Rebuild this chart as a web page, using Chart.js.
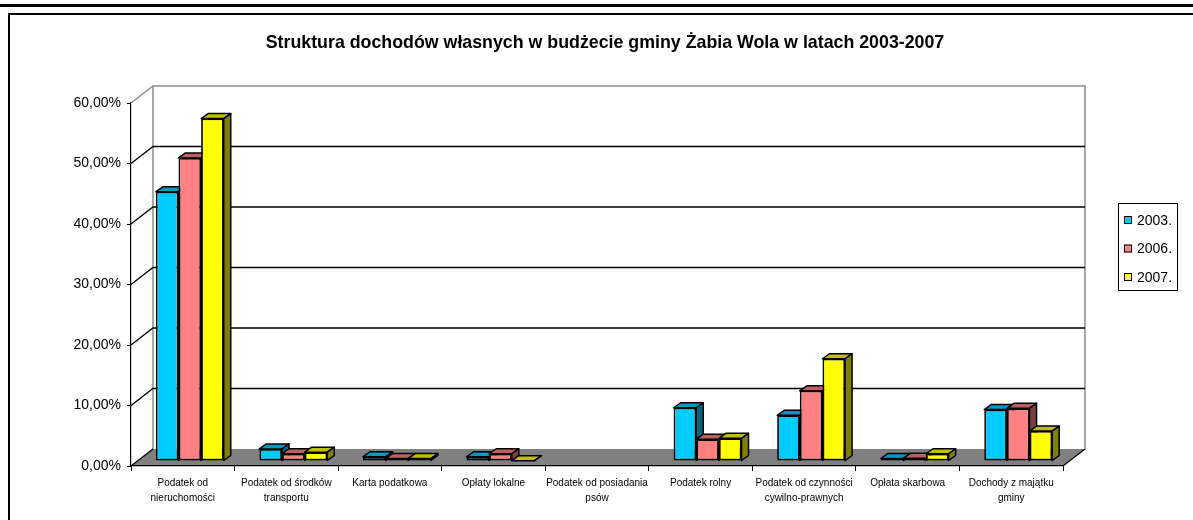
<!DOCTYPE html>
<html>
<head>
<meta charset="utf-8">
<script src="https://cdn.jsdelivr.net/npm/chart.js@4.4.0/dist/chart.umd.min.js"></script>
<style>
  html, body { margin: 0; padding: 0; background: #fff; }
</style>
</head>
<body>
<canvas id="chart" width="1193" height="520"></canvas>
<script>
// Data (percent of own revenue)
const categories = [
  ["Podatek od", "nieruchomości"],
  ["Podatek od środków", "transportu"],
  "Karta podatkowa",
  "Opłaty lokalne",
  ["Podatek od posiadania", "psów"],
  "Podatek rolny",
  ["Podatek od czynności", "cywilno-prawnych"],
  "Opłata skarbowa",
  ["Dochody z majątku", "gminy"]
];
const years = ["2003.", "2006.", "2007."];
const values2003 = [44.5, 2.0, 0.7, 0.7, null, 8.8, 7.55, 0.4, 8.5];
const values2006 = [50.1, 1.2, 0.4, 1.2, null, 3.6, 11.6, 0.45, 8.7];
const values2007 = [56.6, 1.45, 0.4, 0.05, null, 3.75, 16.9, 1.2, 4.95];
const yTicks = [0, 10, 20, 30, 40, 50, 60];

const TITLE = "Struktura dochodów własnych w budżecie gminy Żabia Wola w latach 2003-2007";
const FONT = '"Liberation Sans", Arial, sans-serif';

// oblique depth of the walls, of the bar row and of each bar
const WALL_X = 22, WALL_Y = 17;
const ROW_X = 7, ROW_Y = 5;
const BAR_X = 7, BAR_Y = 5;

function drawFaces(ctx, ds, meta) {
  ctx.save();
  ctx.strokeStyle = '#000';
  ctx.lineWidth = 1.5;
  ctx.lineJoin = 'round';
  meta.data.forEach((bar, i) => {
    if (ds.data[i] == null) return;
    const { x, y, base, width } = bar.getProps(['x', 'y', 'base', 'width'], true);
    const l = x - width / 2, r = x + width / 2;
    // top
    ctx.beginPath();
    ctx.moveTo(l, y);
    ctx.lineTo(l + BAR_X, y - BAR_Y);
    ctx.lineTo(r + BAR_X, y - BAR_Y);
    ctx.lineTo(r, y);
    ctx.closePath();
    ctx.fillStyle = ds.topColor;
    ctx.fill();
    ctx.stroke();
    // right side
    ctx.beginPath();
    ctx.moveTo(r, y);
    ctx.lineTo(r + BAR_X, y - BAR_Y);
    ctx.lineTo(r + BAR_X, base - BAR_Y);
    ctx.lineTo(r, base);
    ctx.closePath();
    ctx.fillStyle = ds.sideColor;
    ctx.fill();
    ctx.stroke();
  });
  ctx.restore();
}

const frame3d = {
  id: 'frame3d',
  beforeDraw(chart) {
    const { ctx, chartArea: a, scales: { y } } = chart;
    ctx.save();
    // page rules
    ctx.fillStyle = '#000';
    ctx.fillRect(0, 4, chart.width, 3);
    ctx.fillRect(8, 13, chart.width - 8, 2);
    ctx.fillRect(8, 13, 2, chart.height - 13);

    // floor
    ctx.beginPath();
    ctx.moveTo(a.left, a.bottom);
    ctx.lineTo(a.right, a.bottom);
    ctx.lineTo(a.right + WALL_X, a.bottom - WALL_Y);
    ctx.lineTo(a.left + WALL_X, a.bottom - WALL_Y);
    ctx.closePath();
    ctx.fillStyle = '#808080';
    ctx.fill();
    ctx.strokeStyle = '#000';
    ctx.lineWidth = 1.2;
    ctx.beginPath();
    ctx.moveTo(a.right, a.bottom);
    ctx.lineTo(a.right + WALL_X, a.bottom - WALL_Y);
    ctx.stroke();

    // back wall outline
    ctx.strokeStyle = '#8c8c8c';
    ctx.lineWidth = 1.5;
    ctx.beginPath();
    ctx.moveTo(a.left + WALL_X, a.bottom - WALL_Y);
    ctx.lineTo(a.left + WALL_X, a.top - WALL_Y);
    ctx.lineTo(a.right + WALL_X, a.top - WALL_Y);
    ctx.lineTo(a.right + WALL_X, a.bottom - WALL_Y);
    ctx.stroke();

    // grid lines: diagonal on the side wall, horizontal on the back wall
    yTicks.forEach(v => {
      const py = y.getPixelForValue(v);
      ctx.beginPath();
      ctx.moveTo(a.left, py);
      ctx.lineTo(a.left + WALL_X, py - WALL_Y);
      if (v > 0 && v < 60) ctx.lineTo(a.right + WALL_X, py - WALL_Y);
      ctx.strokeStyle = v === 60 ? '#8c8c8c' : '#000';
      ctx.lineWidth = v === 60 ? 1.5 : 1.3;
      ctx.stroke();
    });
    ctx.restore();
  },
  // bars are drawn together below, left to right, so that faces overlap correctly
  beforeDatasetDraw() {
    return false;
  },
  afterDatasetsDraw(chart) {
    const ctx = chart.ctx;
    ctx.save();
    ctx.translate(ROW_X, -ROW_Y);
    chart.data.datasets.forEach((ds, i) => {
      const meta = chart.getDatasetMeta(i);
      meta.controller.draw();
      drawFaces(ctx, ds, meta);
    });
    ctx.restore();
  },
  afterDraw(chart) {
    const ctx = chart.ctx;
    ctx.save();
    // title
    ctx.fillStyle = '#000';
    ctx.font = 'bold 17.8px ' + FONT;
    ctx.textAlign = 'center';
    ctx.textBaseline = 'middle';
    ctx.fillText(TITLE, 605, 43);

    // legend
    ctx.strokeStyle = '#000';
    ctx.lineWidth = 1;
    ctx.strokeRect(1118.5, 203.5, 59, 87);
    ctx.font = '14px ' + FONT;
    ctx.textAlign = 'left';
    chart.data.datasets.forEach((ds, i) => {
      const cy = 220 + i * 28.5;
      ctx.fillStyle = ds.backgroundColor;
      ctx.fillRect(1124, cy - 4, 8, 8);
      ctx.strokeRect(1124.5, cy - 3.5, 7, 7);
      ctx.fillStyle = '#000';
      ctx.fillText(ds.label, 1137, cy + 1);
    });
    ctx.restore();
  }
};

const barStyle = { borderColor: '#000', borderWidth: 1.8, borderSkipped: false,
  categoryPercentage: 0.656, barPercentage: 1 };

new Chart(document.getElementById('chart'), {
  type: 'bar',
  data: {
    labels: categories,
    datasets: [
      { label: years[0], data: values2003, backgroundColor: '#00ccff', topColor: '#0099c4', sideColor: '#00667f', ...barStyle },
      { label: years[1], data: values2006, backgroundColor: '#ff8080', topColor: '#bf6060', sideColor: '#804040', ...barStyle },
      { label: years[2], data: values2007, backgroundColor: '#ffff00', topColor: '#bfbf00', sideColor: '#808000', ...barStyle }
    ]
  },
  options: {
    responsive: false,
    animation: false,
    devicePixelRatio: 1,
    layout: { padding: { left: 0, top: 103, right: 130, bottom: 0 } },
    plugins: { legend: { display: false }, title: { display: false }, tooltip: { enabled: false } },
    scales: {
      x: {
        afterFit: s => { s.height = 54; },
        grid: { display: true, drawOnChartArea: false, color: '#000', tickLength: 5, offset: true },
        border: { display: true, color: '#000', width: 1.2 },
        ticks: { color: '#000', maxRotation: 0, autoSkip: false, padding: 5,
          font: { family: FONT, size: 10, lineHeight: 1.5 } }
      },
      y: {
        min: 0, max: 60,
        afterFit: s => { s.width = 131; },
        afterBuildTicks: s => { s.ticks = yTicks.map(v => ({ value: v })); },
        grid: { display: true, drawOnChartArea: false, color: '#000', tickLength: 4 },
        border: { display: true, color: '#000', width: 1.2 },
        ticks: { color: '#000', padding: 6, font: { family: FONT, size: 14 },
          callback: v => v.toFixed(2).replace('.', ',') + '%' }
      }
    }
  },
  plugins: [frame3d]
});
</script>
</body>
</html>
